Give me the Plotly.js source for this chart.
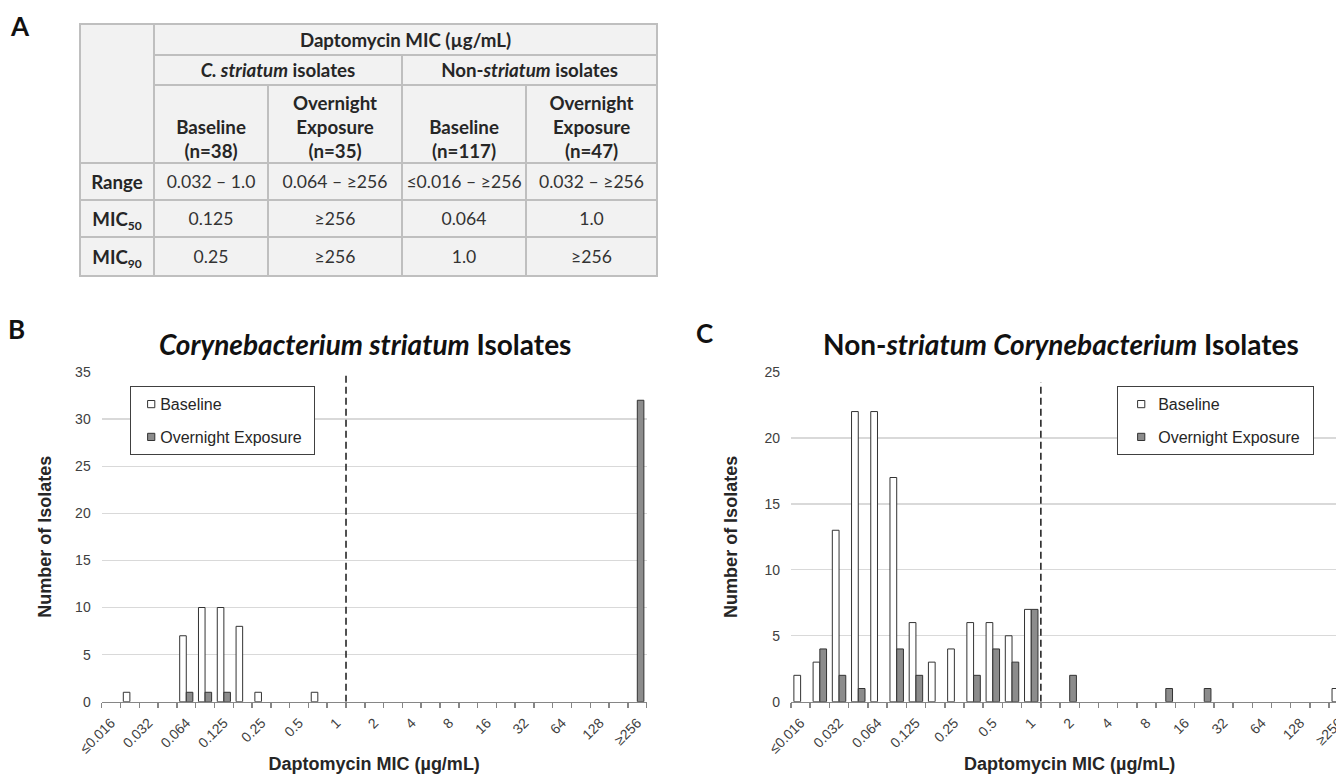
<!DOCTYPE html>
<html>
<head>
<meta charset="utf-8">
<script src="https://cdn.plot.ly/plotly-3.0.1.min.js"></script>
<style>
html, body { margin: 0; padding: 0; width: 1336px; height: 774px; overflow: hidden; background: #ffffff; }
#chart { position: absolute; left: 0; top: 0; width: 1360px; height: 774px; }
#tbl { position: absolute; left: 79px; top: 23px; border-collapse: collapse; table-layout: fixed; width: 577px;
       font-family: Lato, "Noto Sans", sans-serif; color: #262626; }
#tbl td { border: 2px solid #bfbfbf; background: #f2f2f2; text-align: center; vertical-align: middle; padding: 0; }
#tbl td.h { font-weight: 700; font-size: 18.7px; line-height: 24px; }
#tbl td.v { font-weight: 400; font-size: 17.6px; color: #333333; }
#tbl td.lbl { font-weight: 700; font-size: 18.7px; }
#tbl td.bot { vertical-align: bottom; }
#tbl td.bot div { position: relative; top: 1px; }
#tbl sub { font-size: 12px; vertical-align: -4px; line-height: 0; }
</style>
</head>
<body>
<div id="chart"></div>
<table id="tbl"></table>
<script>
// ---------------- data ----------------
const micCategories = ['≤0.016','0.023','0.032','0.047','0.064','0.094','0.125','0.19','0.25','0.38','0.5','0.75','1','1.5','2','3','4','6','8','12','16','24','32','48','64','96','128','192','≥256'];
const micTickLabels = ['≤0.016','0.032','0.064','0.125','0.25','0.5','1','2','4','8','16','32','64','128','≥256'];
const breakpointCategory = '1';

const striatumBaseline     = [0,1,0,0,7,10,10,8,1,0,0,1,0,0,0,0,0,0,0,0,0,0,0,0,0,0,0,0,0];
const striatumOvernight    = [0,0,0,0,1,1,1,0,0,0,0,0,0,0,0,0,0,0,0,0,0,0,0,0,0,0,0,0,32];
const nonStriatumBaseline  = [2,3,13,22,22,17,6,3,4,6,6,5,7,0,0,0,0,0,0,0,0,0,0,0,0,0,0,0,1];
const nonStriatumOvernight = [0,4,2,1,0,4,2,0,0,2,4,3,7,0,2,0,0,0,0,1,0,1,0,0,0,0,0,0,14];

const seriesNames = ['Baseline', 'Overnight Exposure'];
const chartTitles = ['<i>Corynebacterium striatum</i> Isolates', 'Non-<i>striatum Corynebacterium</i> Isolates'];
const xAxisTitle = 'Daptomycin MIC (µg/mL)';
const yAxisTitle = 'Number of Isolates';
const panelLetters = ['A', 'B', 'C'];

// table (panel A)
const tableTopHeader = 'Daptomycin MIC (µg/mL)';
const tableGroups = ['<i>C. striatum</i> isolates', 'Non-<i>striatum</i> isolates'];
const tableColumns = [['Baseline','(n=38)'], ['Overnight','Exposure','(n=35)'], ['Baseline','(n=117)'], ['Overnight','Exposure','(n=47)']];
const tableRowLabels = ['Range', 'MIC<sub>50</sub>', 'MIC<sub>90</sub>'];
const rangeRow = ['0.032 – 1.0', '0.064 – ≥256', '≤0.016 – ≥256', '0.032 – ≥256'];
const mic50Row = ['0.125', '≥256', '0.064', '1.0'];
const mic90Row = ['0.25', '≥256', '1.0', '≥256'];

// ---------------- table ----------------
(function buildTable() {
  const colW = [74, 114, 134, 124, 131];
  const rowH = [31, 30, 78, 37, 37, 39];
  const t = document.getElementById('tbl');
  let html = '<colgroup>' + colW.map(w => '<col style="width:' + w + 'px">').join('') + '</colgroup>';
  html += '<tr style="height:' + rowH[0] + 'px"><td rowspan="3"></td><td class="h" colspan="4">' + tableTopHeader + '</td></tr>';
  html += '<tr style="height:' + rowH[1] + 'px">' + tableGroups.map(g => '<td class="h" colspan="2">' + g + '</td>').join('') + '</tr>';
  html += '<tr style="height:' + rowH[2] + 'px">' + tableColumns.map(c => '<td class="h bot"><div>' + c.join('<br>') + '</div></td>').join('') + '</tr>';
  const rows = [rangeRow, mic50Row, mic90Row];
  rows.forEach((r, i) => {
    html += '<tr style="height:' + rowH[3 + i] + 'px"><td class="lbl">' + tableRowLabels[i] + '</td>' + r.map(v => '<td class="v">' + v + '</td>').join('') + '</tr>';
  });
  t.innerHTML = html;
})();

// ---------------- chart ----------------
const W = 1360, H = 774;
const px = x => x / W;
const py = y => 1 - y / H;

const idx = micCategories.map((_, i) => i);
const noZero = a => a.map(v => (v === 0 ? null : v));
const tickIdx = micTickLabels.map(l => micCategories.indexOf(l));
const bpX = micCategories.indexOf(breakpointCategory) + 0.5;

const fills = ['#ffffff', '#8c8c8c'];
function bar(name, vals, xa, ya, fill, legend) {
  return {
    type: 'bar', name: name, x: idx, y: noZero(vals), xaxis: xa, yaxis: ya,
    customdata: micCategories, legend: legend, legendgroup: legend + name,
    hovertemplate: '%{customdata}: %{y}<extra>' + name + '</extra>',
    marker: { color: fill, line: { color: '#333333', width: 1 } }
  };
}

const data = [
  bar(seriesNames[0], striatumBaseline, 'x', 'y', fills[0], 'legend'),
  bar(seriesNames[1], striatumOvernight, 'x', 'y', fills[1], 'legend'),
  bar(seriesNames[0], nonStriatumBaseline, 'x2', 'y2', fills[0], 'legend2'),
  bar(seriesNames[1], nonStriatumOvernight, 'x2', 'y2', fills[1], 'legend2')
];

const tickFont = { family: 'Liberation Sans, Arial, sans-serif', size: 14, color: '#404040' };
const titleFont = { family: 'Liberation Sans, Arial, sans-serif', size: 18, color: '#262626', weight: 700 };

function xAxis(domain) {
  return {
    domain: domain, range: [-0.5, micCategories.length - 0.5], fixedrange: true,
    showgrid: false, zeroline: false, showline: true, linecolor: '#868686', linewidth: 1.5,
    tickmode: 'array', tickvals: tickIdx, ticktext: micTickLabels, ticks: '', tickangle: -45,
    ticklabelstandoff: 6, tickfont: tickFont,
    minor: { tickmode: 'linear', tick0: -0.5, dtick: 1, ticks: 'outside', ticklen: 5, tickwidth: 1.5, tickcolor: '#868686', showgrid: false },
    title: { text: xAxisTitle, font: titleFont, standoff: 5 }
  };
}
function yAxis(max, anchor, standoff) {
  return {
    domain: [py(701.7), py(372)], range: [0, max], dtick: 5, fixedrange: true, anchor: anchor,
    showgrid: true, gridcolor: '#d9d9d9', gridwidth: 1.3, zeroline: false, showline: false, ticks: '',
    ticklabelstandoff: 10, tickfont: tickFont,
    title: { text: yAxisTitle, font: titleFont, standoff: standoff }
  };
}

const legendStyle = (x) => ({
  x: px(x), y: py(386), xanchor: 'left', yanchor: 'top', orientation: 'v',
  bgcolor: '#ffffff', bordercolor: '#404040', borderwidth: 1.2, tracegroupgap: 9, itemwidth: 30,
  font: { family: 'Liberation Sans, Arial, sans-serif', size: 16, color: '#262626' }
});

const letterFont = { family: 'Lato, sans-serif', size: 26, color: '#111111', weight: 700 };
const chartTitleFont = { family: 'Lato, sans-serif', size: 28, color: '#111111', weight: 700 };
const ann = (text, x, y, font) => ({ text: text, xref: 'paper', yref: 'paper', x: px(x), y: py(y), xanchor: 'center', yanchor: 'middle', showarrow: false, font: font });

const layout = {
  width: W, height: H, margin: { l: 0, r: 0, t: 0, b: 0 },
  paper_bgcolor: '#ffffff', plot_bgcolor: '#ffffff',
  barmode: 'group', bargap: 0.3, bargroupgap: 0,
  showlegend: true,
  legend: legendStyle(130),
  legend2: legendStyle(1117),
  xaxis: xAxis([px(101.7), px(646.7)]),
  yaxis: yAxis(35, 'x', 18),
  xaxis2: xAxis([px(791), px(791 + 19.22 * micCategories.length)]),
  yaxis2: yAxis(25, 'x2', 22),
  shapes: [
    { type: 'line', xref: 'x', yref: 'y', x0: bpX, x1: bpX, y0: 0, y1: 35, line: { color: '#262626', width: 1.6, dash: '7px,4px' } },
    { type: 'line', xref: 'x2', yref: 'y2', x0: bpX, x1: bpX, y0: 0, y1: 24.2, line: { color: '#262626', width: 1.6, dash: '7px,4px' } }
  ],
  annotations: [
    ann(panelLetters[0], 20, 26, letterFont),
    ann(panelLetters[1], 16, 329, letterFont),
    ann(panelLetters[2], 704, 333, letterFont),
    ann(chartTitles[0], 364.7, 343.5, chartTitleFont),
    ann(chartTitles[1], 1060.8, 343.5, chartTitleFont)
  ]
};

// legend tuning to match the reference's small square keys
const legendTweaks = { legend: { text: -11, sym: 0, width: -4 }, legend2: { text: -6, sym: 3, width: 8 } };

Plotly.newPlot('chart', data, layout, { displayModeBar: false, staticPlot: true }).then(gd => {
  Object.keys(legendTweaks).forEach(key => {
    const lg = gd.querySelector('.' + key);
    if (!lg) return;
    const tw = legendTweaks[key];
    lg.querySelectorAll('.legendtext').forEach(t => t.setAttribute('x', (+t.getAttribute('x')) + tw.text));
    lg.querySelectorAll('.legendpoints path').forEach(p => {
      p.setAttribute('d', 'M3.6,3.6H-3.6V-3.6H3.6Z');
      const tr = p.getAttribute('transform') || '';
      p.setAttribute('transform', tr + ' translate(' + tw.sym + ',0)');
    });
    const bg = lg.querySelector('rect.bg');
    if (bg) bg.setAttribute('width', (+bg.getAttribute('width')) + tw.width);
  });
});
</script>
</body>
</html>
